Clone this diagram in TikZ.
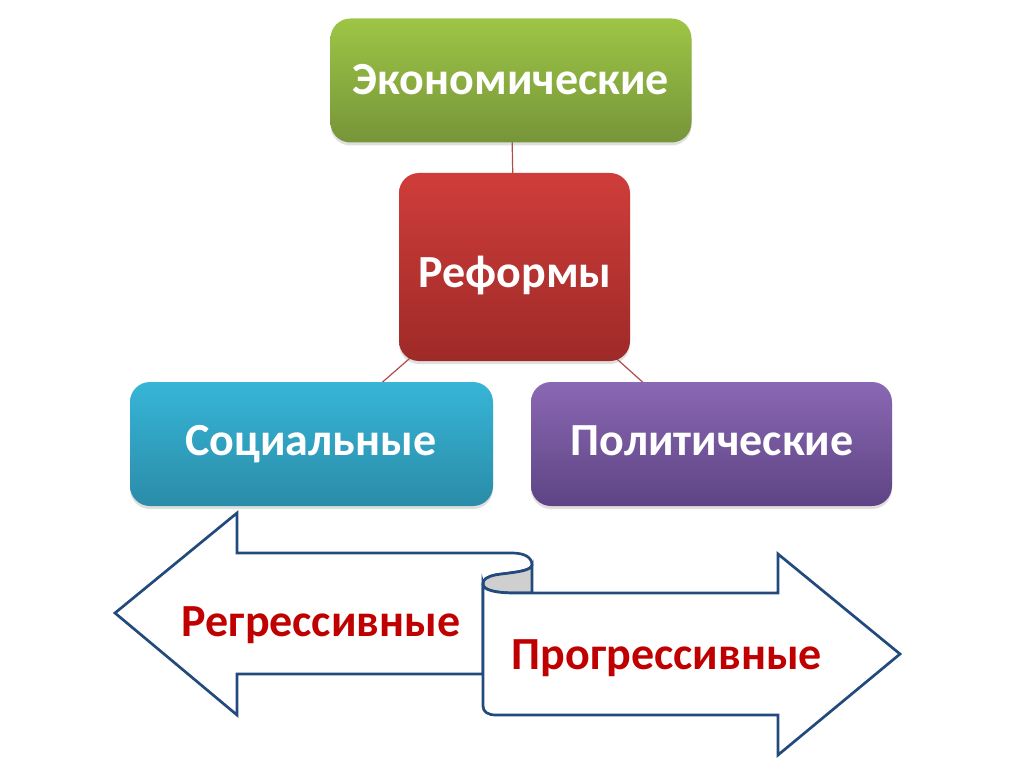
\documentclass[tikz,border=0pt]{standalone}
\usepackage{fontspec}
\setmainfont{Carlito}
\usetikzlibrary{shadows}
\definecolor{gtop}{HTML}{9EC545}
\definecolor{gbot}{HTML}{76953A}
\definecolor{rtop}{HTML}{CF3D3A}
\definecolor{rbot}{HTML}{9E2A28}
\definecolor{btop}{HTML}{37B5D7}
\definecolor{bbot}{HTML}{2A8CA8}
\definecolor{ptop}{HTML}{8A68B3}
\definecolor{pbot}{HTML}{5E4484}
\definecolor{linkred}{HTML}{B24B4B}
\definecolor{arrblue}{HTML}{234A7C}
\definecolor{scrollgray}{HTML}{CFCFCF}
\definecolor{txtred}{HTML}{C00000}
\pgfdeclarelayer{bg}
\pgfsetlayers{bg,main}
\begin{document}
\begin{tikzpicture}[x=1pt,y=-1pt,
  box/.style={rounded corners=20pt, inner sep=0pt, text=white,
    drop shadow={opacity=0.25, shadow xshift=0pt, shadow yshift=-3pt}},
  boxtext/.style={text=white, font=\bfseries\fontsize{46}{50}\selectfont, anchor=base, inner sep=0pt},
  conn/.style={draw=linkred, line width=1.2pt},
  scroll/.style={draw=arrblue, line width=2.7pt, fill=white, line join=miter},
  arrtext/.style={text=txtred, font=\bfseries\fontsize{46}{50}\selectfont, anchor=base, inner sep=0pt}]
\useasboundingbox (0,0) rectangle (1024,767);

% boxes
\node[box, top color=gtop, bottom color=gbot, minimum width=361pt, minimum height=124pt] (eco) at (511,80.5) {};
\node[box, top color=rtop, bottom color=rbot, minimum width=231pt, minimum height=188pt] (ref) at (514.5,267) {};
\node[box, top color=btop, bottom color=bbot, minimum width=363pt, minimum height=124pt] (soc) at (311.5,444) {};
\node[box, top color=ptop, bottom color=pbot, minimum width=361pt, minimum height=124pt] (pol) at (711.5,444) {};

% labels
\node[boxtext] (ecot) at (511,95) {Экономические};
\node[boxtext] (reft) at (515,287) {Реформы};
\node[boxtext] (soct) at (311,455) {Социальные};
\node[boxtext] (polt) at (712,455) {Политические};

% background and connectors
\begin{pgfonlayer}{bg}
\fill[white] (0,0) rectangle (1024,767);
\draw[conn] (ref.center) -- (eco.center);
\draw[conn] (ref.center) -- (soc.center);
\draw[conn] (ref.center) -- (pol.center);
\end{pgfonlayer}

% left arrow with upper roll
\draw[scroll] (483,674) -- (237,674) -- (237,715) -- (115,613) -- (237,513) -- (237,553)
  -- (512,553) .. controls (524,553) and (532,557) .. (532,565)
  .. controls (532,572) and (505,573) .. (495,575)
  .. controls (487,577) and (483,579) .. (483,584) -- cycle;
% gray inside of the roll
\draw[scroll, fill=scrollgray] (532,565)
  .. controls (532,572) and (505,573) .. (495,575)
  .. controls (487,577) and (483,579) .. (483,584)
  .. controls (483,590) and (495,593) .. (515,593) -- (532,593) -- cycle;
% right arrow
\draw[scroll] (483,584) -- (483,706) .. controls (483,712) and (488,715) .. (496,715)
  -- (778,715) -- (778,755) -- (900,654) -- (778,554) -- (778,593) -- (515,593)
  .. controls (495,593) and (483,590) .. (483,584) -- cycle;

\node[arrtext] (reg) at (321,636) {Регрессивные};
\node[arrtext] (prog) at (667,669) {Прогрессивные};
\end{tikzpicture}
\end{document}
